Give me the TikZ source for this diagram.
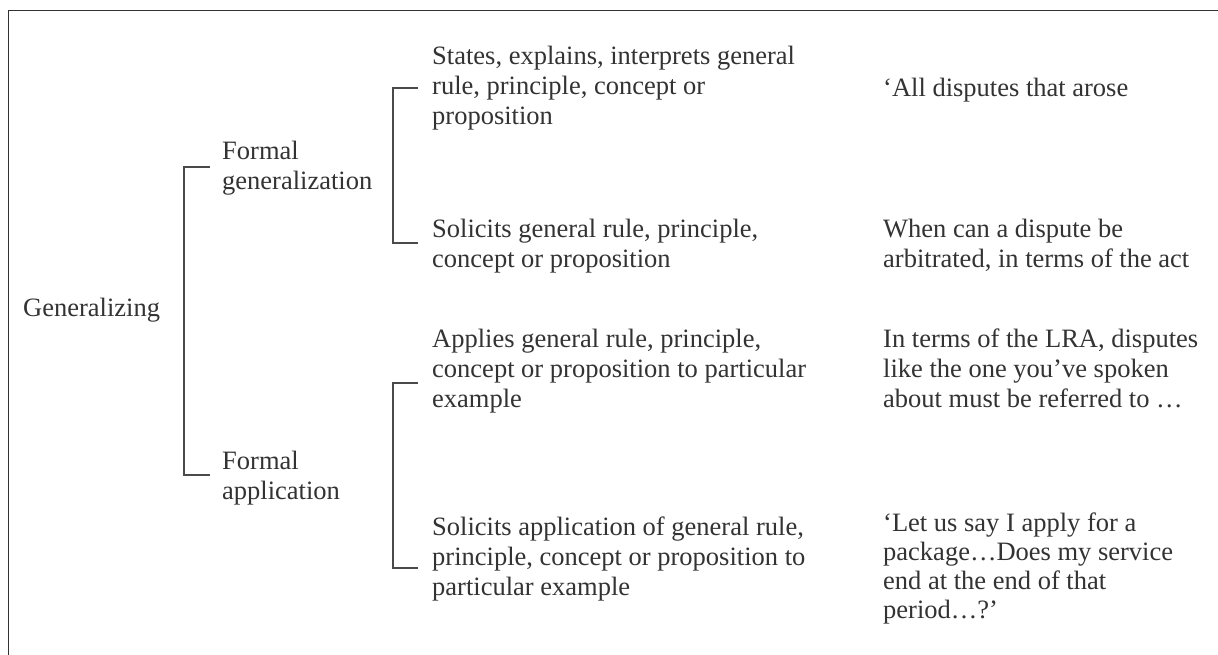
\documentclass[tikz,border=0pt]{standalone}
\usepackage{fontspec}
\setmainfont{Liberation Serif}
\definecolor{ink}{HTML}{333333}
\definecolor{brkc}{HTML}{4A4A4A}
\newcommand{\mainsz}{\fontsize{26.5}{30}\selectfont}
\newcommand{\tightsz}{\fontsize{26.5}{28.7}\selectfont}
\begin{document}
\begin{tikzpicture}[x=1pt,y=-1pt,
  txt/.style={anchor=base west, inner sep=0pt, align=left, font=\mainsz, text=ink},
  brk/.style={draw=brkc, line width=1.7pt},
  frameline/.style={draw=ink, line width=1.6pt}]
\useasboundingbox (0,0) rectangle (1218,655);
\fill[white] (0,0) rectangle (1218,655);
\draw[frameline] (1218,10.5) -- (8.5,10.5) -- (8.5,655);

% multi-line nodes are placed by the baseline of their last line
\node[txt] (gen) at (23,316) {Generalizing};
\node[txt] (fgen) at (222,190) {Formal\\generalization};
\node[txt] (fapp) at (222,499) {Formal\\application};

\node[txt] (st) at (432,125) {States, explains, interprets general\\rule, principle, concept or\\proposition};
\node[txt] (sg) at (432,267) {Solicits general rule, principle,\\concept or proposition};
\node[txt] (ap) at (432,407) {Applies general rule, principle,\\concept or proposition to particular\\example};
\node[txt] (sa) at (432,595) {Solicits application of general rule,\\principle, concept or proposition to\\particular example};

\node[txt] (ex1) at (883,97) {‘All disputes that arose};
\node[txt] (ex2) at (883,267) {When can a dispute be\\arbitrated, in terms of the act};
\node[txt] (ex3) at (883,407) {In terms of the LRA, disputes\\like the one you’ve spoken\\about must be referred to …};
\node[txt, font=\tightsz] (ex4) at (883,618) {‘Let us say I apply for a\\package…Does my service\\end at the end of that\\period…?’};

\draw[brk] ([shift={(-12,-23)}]fgen.base west) -- ++(-26,0) |- ([shift={(-12,-24)}]fapp.base west);
\draw[brk] ([shift={(-14,-37)}]st.base west) -- ++(-25,0) |- ([shift={(-14,-24)}]sg.base west);
\draw[brk] ([shift={(-14,-24)}]ap.base west) -- ++(-25,0) |- ([shift={(-14,-27)}]sa.base west);
\end{tikzpicture}
\end{document}
